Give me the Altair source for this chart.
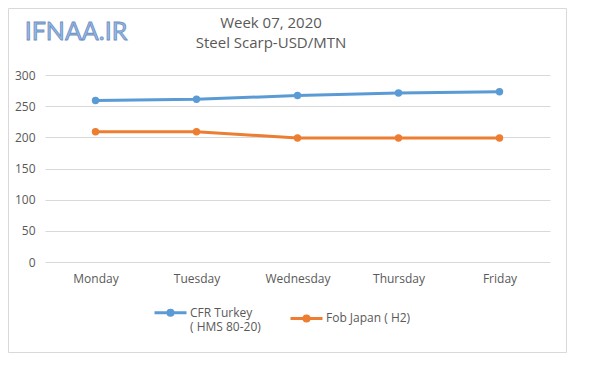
import altair as alt
import pandas as pd

days = ["Monday", "Tuesday", "Wednesday", "Thursday", "Friday"]
turkey = [259, 261, 267, 271, 273]
japan = [209, 209, 199, 199, 199]
series = ["CFR Turkey| ( HMS 80-20)", "Fob Japan ( H2)"]
colors = ["#5b9bd5", "#ed7d31"]
y_ticks = [0, 50, 100, 150, 200, 250, 300]
title_lines = ["Week 07, 2020", "Steel Scarp-USD/MTN"]
logo = "IFNAA.IR"

rows = []
for d, t, j in zip(days, turkey, japan):
    rows.append({"day": d, "series": series[0], "value": t})
    rows.append({"day": d, "series": series[1], "value": j})
df = pd.DataFrame(rows)

FONT = "Open Sans"
GREY = "#595959"

x = alt.X("day:N", sort=days, scale=alt.Scale(type="point", padding=0.5),
          axis=alt.Axis(title=None, labelAngle=0, domain=False, ticks=False, grid=False,
                        labelPadding=11, labelColor=GREY, labelFontSize=12, labelFont=FONT))
y = alt.Y("value:Q", scale=alt.Scale(domain=[0, 300], nice=False),
          axis=alt.Axis(title=None, values=y_ticks, domain=False, ticks=False, grid=True,
                        gridColor="#d9d9d9", labelPadding=10, labelColor=GREY,
                        labelFontSize=12, labelFont=FONT))
cscale = alt.Scale(domain=series, range=colors)

leg = alt.Legend(orient="none", legendX=108, legendY=224, direction="horizontal", title=None,
                 symbolType="M-1,-0.25L1,-0.25M-0.16,-0.25A0.16,0.16 0 1,0 0.16,-0.25A0.16,0.16 0 1,0 -0.16,-0.25Z",
                 symbolSize=1024, symbolStrokeWidth=3, labelFont=FONT, labelFontSize=12,
                 labelColor=GREY, labelExpr="split(datum.label, '|')", columnPadding=23,
                 labelOffset=2, labelBaseline="alphabetic")

lines = alt.Chart(df).mark_line(strokeWidth=3).encode(
    x=x, y=y, color=alt.Color("series:N", scale=cscale, legend=leg))
points = alt.Chart(df).mark_point(filled=True, size=55, opacity=1).encode(
    x=x, y=y, color=alt.Color("series:N", scale=cscale, legend=None))

t1 = alt.Chart(pd.DataFrame({"t": [title_lines[0]]})).mark_text(
    font=FONT, fontSize=15, color=GREY, align="center", baseline="middle").encode(
    text="t:N", x=alt.value(226), y=alt.value(-52))
t2 = alt.Chart(pd.DataFrame({"t": [title_lines[1]]})).mark_text(
    font=FONT, fontSize=15, color=GREY, align="center", baseline="middle").encode(
    text="t:N", x=alt.value(226), y=alt.value(-32))

ldf = pd.DataFrame({"t": [logo]})
logo_mark = alt.Chart(ldf).mark_text(font="Lato", fontSize=25, fill="#95b9e6",
                                     stroke="#6d8fbf", strokeWidth=0.8, align="center",
                                     baseline="middle").encode(
    text="t:N", x=alt.value(31), y=alt.value(-43))

border = alt.Chart(ldf).mark_rect(fill="transparent", stroke="#d9d9d9", strokeWidth=1).encode(
    x=alt.value(-36.5), x2=alt.value(521.5), y=alt.value(-66.5), y2=alt.value(277.5))

chart = alt.layer(border, lines, points, t1, t2, logo_mark).properties(
    width=505, height=187,
    autosize=alt.AutoSizeParams(type="none"),
    padding={"left": 37, "top": 67, "right": 40, "bottom": 100},
).configure_view(stroke=None)

chart.save("out.html", embed_options={"renderer": "svg", "actions": False})
